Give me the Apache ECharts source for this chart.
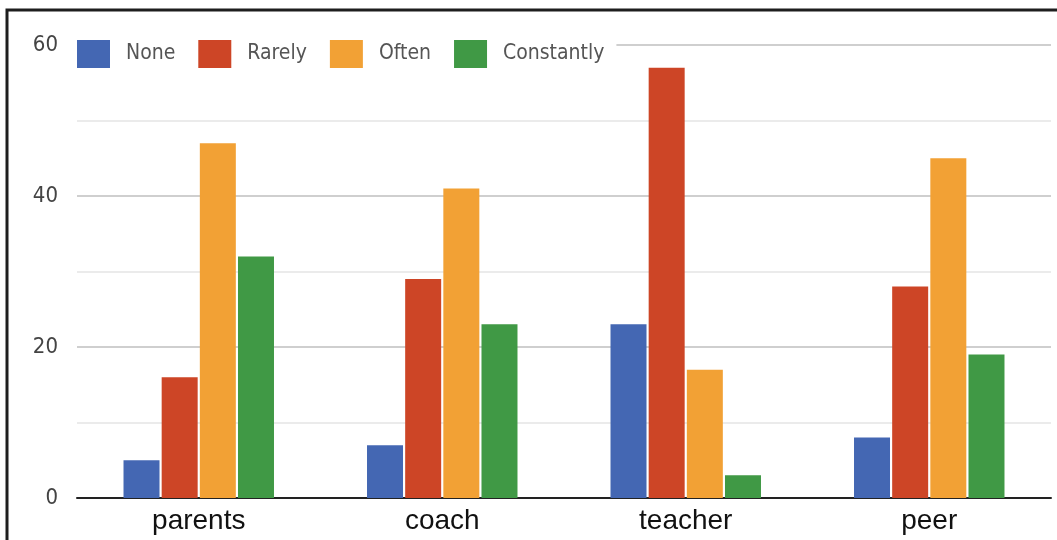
<!DOCTYPE html>
<html>
<head>
<meta charset="utf-8">
<script src="https://cdn.jsdelivr.net/npm/echarts@6/dist/echarts.min.js"></script>
<style>
  html, body { margin: 0; padding: 0; background: #fff; }
  #chart { width: 1057px; height: 540px; }
</style>
</head>
<body>
<div id="chart"></div>
<script>
// Survey responses by source of pressure
const categories = ['parents', 'coach', 'teacher', 'peer'];
const seriesNames = ['None', 'Rarely', 'Often', 'Constantly'];
const noneValues = [5, 7, 23, 8];
const rarelyValues = [16, 29, 57, 28];
const oftenValues = [47, 41, 17, 45];
const constantlyValues = [32, 23, 3, 19];
const colors = ['#4467b3', '#cd4526', '#f2a135', '#409945'];

const valueSets = [noneValues, rarelyValues, oftenValues, constantlyValues];
const condensed = '"Liberation Sans Narrow", "DejaVu Sans Condensed", "Roboto", sans-serif';

const chart = echarts.init(document.getElementById('chart'), null, { renderer: 'canvas' });

chart.setOption({
  animation: false,
  backgroundColor: '#ffffff',
  color: colors,
  grid: { left: 77, right: 6, top: 45, bottom: 42, containLabel: false },
  legend: {
    data: seriesNames,
    left: 77,
    top: 40,
    padding: [0, 12, 0, 0],
    backgroundColor: '#ffffff',
    itemWidth: 33,
    itemHeight: 28,
    itemGap: 23,
    icon: 'rect',
    textStyle: { fontFamily: condensed, fontSize: 21, color: '#555', padding: [0, 0, 0, 11] }
  },
  xAxis: {
    type: 'category',
    data: categories,
    axisLine: { show: true, lineStyle: { color: '#222', width: 2 } },
    axisTick: { show: false },
    axisLabel: {
      fontFamily: '"Liberation Sans", Arial, sans-serif',
      fontSize: 28,
      color: '#111',
      margin: 9
    }
  },
  yAxis: {
    type: 'value',
    min: 0,
    max: 60,
    interval: 20,
    axisLine: { show: false },
    axisTick: { show: false },
    axisLabel: { fontFamily: condensed, fontSize: 22, color: '#444', margin: 19 },
    splitLine: { lineStyle: { color: '#cfcfcf', width: 2 } },
    minorTick: { show: false, splitNumber: 2 },
    minorSplitLine: { show: true, lineStyle: { color: '#ebebeb', width: 2 } }
  },
  graphic: [{
    type: 'polyline',
    shape: { points: [[7, 540], [7, 10], [1057, 10]] },
    style: { stroke: '#1e1e1e', lineWidth: 3, fill: null },
    z: 100
  }],
  series: seriesNames.map((name, i) => ({
    name: name,
    type: 'bar',
    data: valueSets[i],
    barWidth: 36,
    barGap: '6%',
    itemStyle: { color: colors[i] }
  }))
});
</script>
</body>
</html>
